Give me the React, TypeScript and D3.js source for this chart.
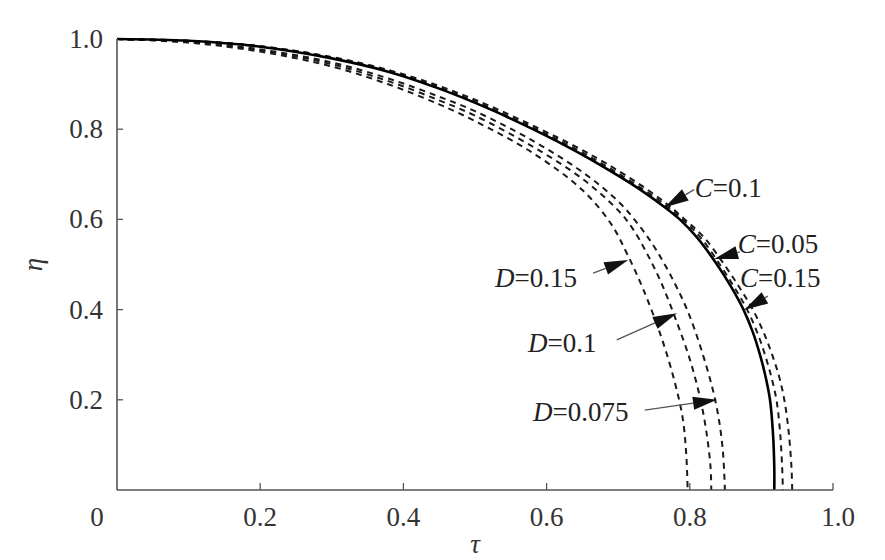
import React from "react";
import * as d3 from "d3";

// curve data: [tau, eta]
const curveC01: [number, number][] = [
  [0, 1], [0.1, 0.996], [0.2, 0.983], [0.3, 0.957], [0.38, 0.927], [0.45, 0.89],
  [0.52, 0.845], [0.59, 0.793], [0.64, 0.752], [0.68, 0.716], [0.725, 0.672], [0.765, 0.627],
  [0.786, 0.6], [0.81, 0.56], [0.838, 0.5], [0.858, 0.45], [0.875, 0.4], [0.888, 0.35],
  [0.898, 0.3], [0.906, 0.25], [0.912, 0.2], [0.916, 0.13], [0.918, 0.05], [0.918, 0],
];
const curveC005: [number, number][] = [
  [0, 1], [0.1, 0.996], [0.2, 0.984], [0.3, 0.959], [0.38, 0.929], [0.45, 0.893],
  [0.52, 0.848], [0.59, 0.797], [0.64, 0.757], [0.68, 0.721], [0.725, 0.677], [0.765, 0.633],
  [0.79, 0.6], [0.815, 0.56], [0.842, 0.5], [0.862, 0.45], [0.88, 0.4], [0.894, 0.35],
  [0.905, 0.3], [0.914, 0.25], [0.921, 0.2], [0.926, 0.13], [0.929, 0.05], [0.93, 0],
];
const curveC015: [number, number][] = [
  [0, 1], [0.1, 0.996], [0.2, 0.984], [0.3, 0.96], [0.38, 0.931], [0.45, 0.896],
  [0.52, 0.852], [0.59, 0.801], [0.64, 0.762], [0.68, 0.727], [0.725, 0.683], [0.765, 0.638],
  [0.793, 0.6], [0.82, 0.56], [0.848, 0.5], [0.869, 0.45], [0.888, 0.4], [0.903, 0.35],
  [0.915, 0.3], [0.925, 0.25], [0.932, 0.2], [0.938, 0.13], [0.942, 0.05], [0.943, 0],
];
const curveD0075: [number, number][] = [
  [0, 1], [0.1, 0.994], [0.2, 0.977], [0.3, 0.948], [0.38, 0.912], [0.45, 0.872],
  [0.5, 0.84], [0.58, 0.775], [0.65, 0.705], [0.7, 0.64], [0.73, 0.585], [0.754, 0.53],
  [0.78, 0.455], [0.8, 0.385], [0.824, 0.27], [0.838, 0.18], [0.846, 0.09], [0.849, 0],
];
const curveD01: [number, number][] = [
  [0, 1], [0.1, 0.993], [0.2, 0.975], [0.3, 0.944], [0.38, 0.906], [0.45, 0.864],
  [0.5, 0.83], [0.58, 0.762], [0.65, 0.69], [0.7, 0.62], [0.72, 0.58], [0.74, 0.525],
  [0.76, 0.46], [0.78, 0.38], [0.8, 0.29], [0.815, 0.2], [0.824, 0.12], [0.829, 0.05], [0.83, 0],
];
const curveD015: [number, number][] = [
  [0, 1], [0.1, 0.992], [0.2, 0.972], [0.3, 0.939], [0.38, 0.899], [0.45, 0.855],
  [0.5, 0.818], [0.58, 0.748], [0.65, 0.665], [0.69, 0.59], [0.712, 0.525], [0.735, 0.445],
  [0.76, 0.34], [0.778, 0.245], [0.79, 0.16], [0.795, 0.08], [0.797, 0],
];

const xTicks = [0.2, 0.4, 0.6, 0.8, 1.0];
const yTicks = [0.2, 0.4, 0.6, 0.8, 1.0];
const xTickLabels = ["0.2", "0.4", "0.6", "0.8", "1.0"];
const yTickLabels = ["0.2", "0.4", "0.6", "0.8", "1.0"];

// annotation: letter, value, label anchor, arrow start, arrow tip (data coords)
const annLetters = ["C", "C", "C", "D", "D", "D"];
const annValues = ["=0.1", "=0.05", "=0.15", "=0.15", "=0.1", "=0.075"];
const annLabelAt: [number, number][] = [
  [0.807, 0.65], [0.867, 0.525], [0.87, 0.45], [0.528, 0.45], [0.574, 0.306], [0.581, 0.153],
];
const annFrom: [number, number][] = [
  [0.806, 0.666], [0.87, 0.528], [0.909, 0.43], [0.665, 0.481], [0.698, 0.333], [0.737, 0.177],
];
const annTip: [number, number][] = [
  [0.765, 0.627], [0.834, 0.512], [0.876, 0.399], [0.714, 0.51], [0.782, 0.392], [0.838, 0.2],
];

const W = 885;
const H = 560;
const FONT = "Liberation Serif, Times New Roman, serif";

const App = () => {
  const x = d3.scaleLinear().domain([0, 1]).range([117, 833]);
  const y = d3.scaleLinear().domain([0, 1]).range([490, 39]);

  const line = d3
    .line<[number, number]>()
    .x((d) => x(d[0]))
    .y((d) => y(d[1]))
    .curve(d3.curveCatmullRom.alpha(0.5));

  const dashed = [curveC005, curveC015, curveD0075, curveD01, curveD015];
  const txt = { fontFamily: FONT };

  // filled triangular arrow head + thin shaft
  const arrow = (from: [number, number], tip: [number, number], i: number) => {
    const x1 = x(from[0]);
    const y1 = y(from[1]);
    const x2 = x(tip[0]);
    const y2 = y(tip[1]);
    const len = Math.hypot(x2 - x1, y2 - y1);
    const ux = (x2 - x1) / len;
    const uy = (y2 - y1) / len;
    const hl = Math.min(24, len);
    const hw = 6.5;
    const bx = x2 - ux * hl;
    const by = y2 - uy * hl;
    const pts = [
      [x2, y2],
      [bx - uy * hw, by + ux * hw],
      [bx, by],
      [bx + uy * hw, by - ux * hw],
    ];
    return (
      <g key={"a" + i}>
        {len > hl && (
          <line x1={x1} y1={y1} x2={bx} y2={by} stroke="#555" strokeWidth={1.3} />
        )}
        <polygon points={pts.map((p) => p.join(",")).join(" ")} fill="#111" />
      </g>
    );
  };

  return (
    <svg
      width={W}
      height={H}
      style={{ position: "absolute", left: 0, top: 0, background: "#fff" }}
    >
      {/* curves */}
      {dashed.map((c, i) => (
        <path
          key={i}
          d={line(c) || ""}
          fill="none"
          stroke="#1a1a1a"
          strokeWidth={2}
          strokeDasharray="6,5"
        />
      ))}
      <path d={line(curveC01) || ""} fill="none" stroke="#000" strokeWidth={2.6} />

      {/* axes */}
      <line x1={x(0)} y1={y(1)} x2={x(0)} y2={y(0)} stroke="#555" strokeWidth={1.6} />
      <line x1={x(0)} y1={y(0)} x2={x(1)} y2={y(0)} stroke="#555" strokeWidth={1.6} />
      {xTicks.map((t, i) => (
        <g key={"xt" + i}>
          <line x1={x(t)} x2={x(t)} y1={y(0)} y2={y(0) - 7} stroke="#555" strokeWidth={1.3} />
          <text
            x={x(t) + (t === 1 ? 5 : 0)}
            y={y(0) + 36}
            textAnchor="middle"
            fontSize={27}
            fill="#333"
            style={txt}
          >
            {xTickLabels[i]}
          </text>
        </g>
      ))}
      <text x={x(0) - 20} y={y(0) + 36} textAnchor="middle" fontSize={27} fill="#333" style={txt}>
        0
      </text>
      {yTicks.map((t, i) => (
        <g key={"yt" + i}>
          {t < 1 && (
            <line x1={x(0)} x2={x(0) + 6} y1={y(t)} y2={y(t)} stroke="#555" strokeWidth={1.3} />
          )}
          <text x={x(0) - 14} y={y(t) + 9} textAnchor="end" fontSize={27} fill="#333" style={txt}>
            {yTickLabels[i]}
          </text>
        </g>
      ))}

      {/* axis titles */}
      <text
        transform={`translate(42,${(y(0) + y(1)) / 2}) rotate(-90)`}
        textAnchor="middle"
        fontSize={27}
        fontStyle="italic"
        fill="#333"
        style={txt}
      >
        η
      </text>
      <text
        x={x(0.5)}
        y={553}
        textAnchor="middle"
        fontSize={27}
        fontStyle="italic"
        fill="#333"
        style={txt}
      >
        τ
      </text>

      {/* annotations */}
      {annLetters.map((l, i) => (
        <g key={"ann" + i}>
          {arrow(annFrom[i], annTip[i], i)}
          <text
            x={x(annLabelAt[i][0])}
            y={y(annLabelAt[i][1])}
            fontSize={27}
            fill="#222"
            style={txt}
          >
            <tspan fontStyle="italic">{l}</tspan>
            {annValues[i]}
          </text>
        </g>
      ))}
    </svg>
  );
};

export default App;
